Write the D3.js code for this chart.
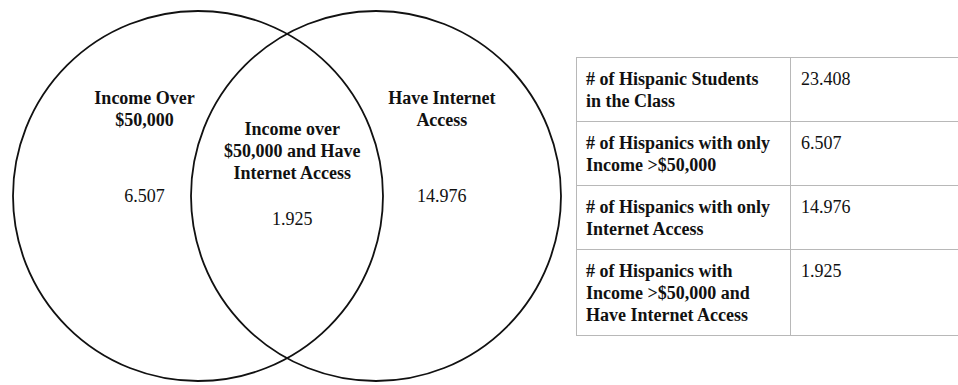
<!DOCTYPE html>
<meta charset="utf-8">
<head>
<style>
  body { margin: 0; background: #fff; }
  svg { display: block; }
  text { font-family: "Liberation Serif", "Times New Roman", serif; fill: #111; }
</style>
</head>
<script src="https://d3js.org/d3.v7.min.js"></script>

<div id="venn"></div>

<script>
    // venn regions: left only, both, right only
    var regionNames = [
        ['Income Over', '$50,000'],
        ['Income over', '$50,000 and Have', 'Internet Access'],
        ['Have Internet', 'Access']
    ];
    var regionValues = [6.507, 1.925, 14.976];

    // table rows
    var tableLabels = [
        ['# of Hispanic Students', 'in the Class'],
        ['# of Hispanics with only', 'Income >$50,000'],
        ['# of Hispanics with only', 'Internet Access'],
        ['# of Hispanics with', 'Income >$50,000 and', 'Have Internet Access']
    ];
    var tableValues = [23.408, 6.507, 14.976, 1.925];

    var width = 958,
        height = 385,
        radius = 185,
        cy = 196,
        lineH = 22,
        fmt = d3.format('.3f');

    var svg = d3.select('#venn').append('svg')
        .attr('width', width)
        .attr('height', height);

    // circle centres sit at 0 and 1, region text at its own spot on same scale
    var xScale = d3.scaleLinear().domain([0, 1]).range([198, 376]);
    var regionPos = [-0.3, 0.53, 1.37];
    var labelTop = [104, 135, 104];
    var valueY = [202, 225, 202];

    svg.append('g')
        .selectAll('circle').data([0, 1])
        .enter().append('circle')
        .attr('cx', d => xScale(d))
        .attr('cy', cy)
        .attr('r', radius)
        .attr('fill', 'none')
        .attr('stroke', '#111')
        .attr('stroke-width', 1.8);

    var regions = svg.append('g')
        .selectAll('g').data(regionNames)
        .enter().append('g')
        .attr('transform', (d, i) => `translate(${xScale(regionPos[i])},0)`);

    regions.selectAll('text.name')
        .data((d, i) => d.map((t, j) => ({t: t, y: labelTop[i] + j * lineH})))
        .enter().append('text')
        .attr('class', 'name')
        .attr('text-anchor', 'middle')
        .attr('y', d => d.y)
        .style('font-size', '18px')
        .style('font-weight', 'bold')
        .text(d => d.t);

    regions.append('text')
        .attr('text-anchor', 'middle')
        .attr('y', (d, i) => valueY[i])
        .style('font-size', '18px')
        .text((d, i) => fmt(regionValues[i]));

    // table: row height from number of lines
    var tLeft = 576, tMid = 790, tRight = 958, tTop = 57, pad = 10;
    var rowTops = [];
    var acc = tTop;
    tableLabels.forEach(function(lines) {
        rowTops.push(acc);
        acc += lines.length * lineH + pad * 2;
    });
    var tBottom = acc;

    var table = svg.append('g');
    var border = '#b8b8b8';

    table.selectAll('line.h')
        .data(rowTops.concat([tBottom]))
        .enter().append('line')
        .attr('x1', tLeft).attr('x2', tRight)
        .attr('y1', d => d + 0.5).attr('y2', d => d + 0.5)
        .attr('stroke', border);

    table.selectAll('line.v')
        .data([tLeft, tMid])
        .enter().append('line')
        .attr('x1', d => d + 0.5).attr('x2', d => d + 0.5)
        .attr('y1', tTop).attr('y2', tBottom)
        .attr('stroke', border);

    var rows = table.selectAll('g.row')
        .data(tableLabels)
        .enter().append('g')
        .attr('transform', (d, i) => `translate(0,${rowTops[i] + pad + 18})`);

    rows.selectAll('text')
        .data(d => d)
        .enter().append('text')
        .attr('x', tLeft + 10)
        .attr('y', (d, j) => j * lineH)
        .style('font-size', '18px')
        .style('font-weight', 'bold')
        .text(d => d);

    rows.append('text')
        .attr('x', tMid + 11)
        .attr('y', 0)
        .style('font-size', '18px')
        .text((d, i) => fmt(tableValues[i]));
</script>
